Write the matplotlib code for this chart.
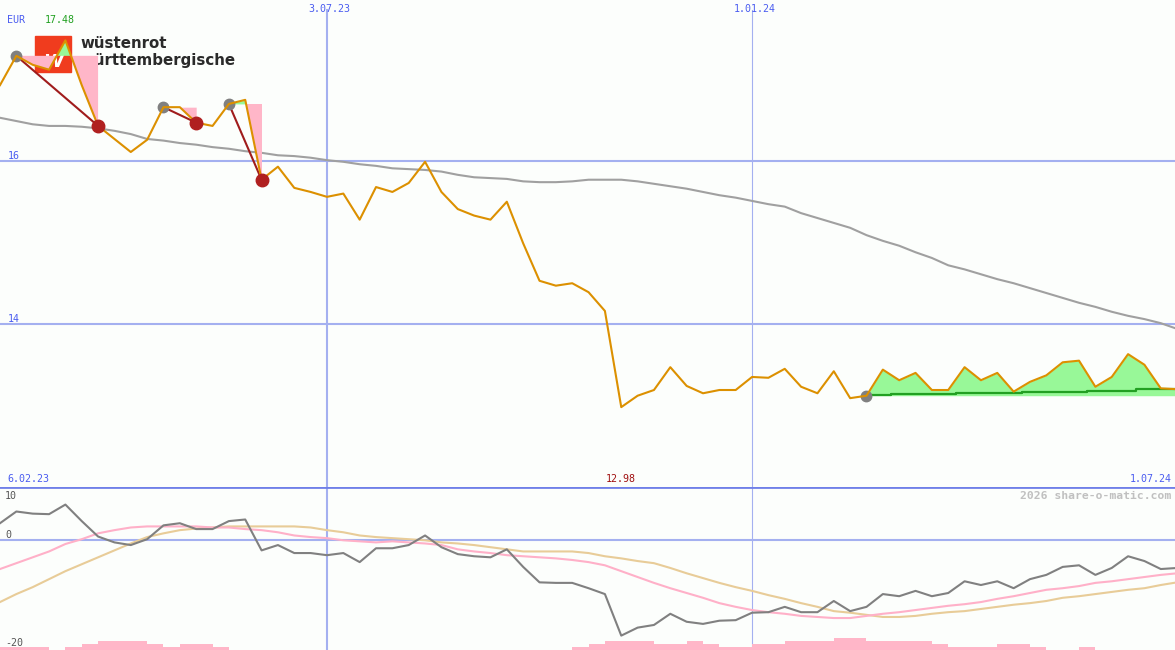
import matplotlib
matplotlib.use("Agg")
import matplotlib.pyplot as plt
import numpy as np
import pandas as pd

# weekly closes, starting 13.02.23
start = pd.Timestamp("2023-02-13")
price = [16.93, 17.29, 17.18, 17.12, 17.48, 16.93, 16.43, 16.27, 16.11, 16.26,
         16.66, 16.66, 16.47, 16.43, 16.70, 16.75, 15.77, 15.93, 15.67, 15.62,
         15.56, 15.60, 15.28, 15.68, 15.62, 15.73, 15.99, 15.62, 15.41, 15.33,
         15.28, 15.50, 14.99, 14.53, 14.47, 14.50, 14.39, 14.16, 12.98, 13.12,
         13.19, 13.47, 13.24, 13.15, 13.19, 13.19, 13.35, 13.34, 13.45, 13.23,
         13.15, 13.42, 13.09, 13.12, 13.44, 13.31, 13.40, 13.19, 13.19, 13.47,
         13.31, 13.40, 13.17, 13.29, 13.37, 13.53, 13.55, 13.23, 13.35, 13.63,
         13.50, 13.21, 13.20]
avg_long = [16.53, 16.49, 16.45, 16.43, 16.43, 16.42, 16.40, 16.37, 16.33, 16.27,
            16.25, 16.22, 16.20, 16.17, 16.15, 16.12, 16.10, 16.07, 16.06, 16.04,
            16.01, 15.99, 15.96, 15.94, 15.91, 15.90, 15.89, 15.87, 15.83, 15.80,
            15.79, 15.78, 15.75, 15.74, 15.74, 15.75, 15.77, 15.77, 15.77, 15.75,
            15.72, 15.69, 15.66, 15.62, 15.58, 15.55, 15.51, 15.47, 15.44, 15.36,
            15.30, 15.24, 15.18, 15.09, 15.02, 14.96, 14.88, 14.81, 14.72, 14.67,
            14.61, 14.55, 14.50, 14.44, 14.38, 14.32, 14.26, 14.21, 14.15, 14.10,
            14.06, 14.01, 13.94]

# closed trades (week index of entry / exit) and the open one
entries = [1, 10, 14]
exits = [6, 12, 16]
open_entry = 53
stop_level = [13.13, 13.13, 13.14, 13.14, 13.14, 13.14, 13.15, 13.15, 13.15, 13.15,
              13.17, 13.17, 13.17, 13.17, 13.18, 13.18, 13.18, 13.20, 13.20, 13.20]

# lower panel
momentum = [3.2, 5.4, 5.0, 4.9, 6.7, 3.6, 0.7, -0.4, -0.9, 0.2,
            2.8, 3.2, 2.1, 2.1, 3.6, 3.9, -1.9, -0.9, -2.4, -2.4,
            -2.8, -2.4, -4.1, -1.5, -1.5, -0.9, 0.9, -1.3, -2.6, -3.0,
            -3.2, -1.7, -5.0, -7.9, -8.0, -8.0, -9.0, -10.1, -17.9, -16.4,
            -15.9, -13.8, -15.3, -15.7, -15.1, -15.0, -13.6, -13.5, -12.5, -13.5,
            -13.5, -11.4, -13.3, -12.5, -10.1, -10.5, -9.5, -10.5, -9.9, -7.7,
            -8.4, -7.7, -9.0, -7.3, -6.5, -5.0, -4.7, -6.5, -5.2, -3.0,
            -3.9, -5.4, -5.2]
mom_fast = [-5.4, -4.3, -3.2, -2.1, -0.7, 0.2, 1.3, 1.9, 2.4, 2.6,
            2.6, 2.6, 2.6, 2.4, 2.4, 2.1, 1.9, 1.5, 0.9, 0.6,
            0.4, 0.0, -0.2, -0.4, -0.2, -0.4, -0.6, -0.9, -1.7, -2.1,
            -2.4, -2.8, -3.0, -3.2, -3.4, -3.7, -4.1, -4.7, -5.8, -6.9,
            -8.0, -9.0, -9.9, -10.8, -11.8, -12.5, -13.1, -13.5, -13.8, -14.2,
            -14.4, -14.6, -14.6, -14.2, -13.8, -13.5, -13.1, -12.7, -12.3, -12.0,
            -11.6, -11.0, -10.5, -9.9, -9.3, -9.0, -8.6, -8.0, -7.7, -7.3,
            -6.9, -6.5, -6.2]
mom_slow = [-11.6, -10.1, -8.8, -7.3, -5.8, -4.5, -3.2, -1.9, -0.6, 0.6,
            1.3, 1.9, 2.2, 2.4, 2.6, 2.6, 2.6, 2.6, 2.6, 2.4,
            1.9, 1.5, 0.9, 0.6, 0.4, 0.2, 0.0, -0.4, -0.6, -0.9,
            -1.3, -1.7, -2.1, -2.1, -2.1, -2.1, -2.4, -3.0, -3.4, -3.9,
            -4.3, -5.2, -6.2, -7.1, -8.0, -8.8, -9.5, -10.3, -11.0, -11.8,
            -12.5, -13.3, -13.6, -14.0, -14.4, -14.4, -14.2, -13.8, -13.5, -13.3,
            -12.9, -12.5, -12.1, -11.8, -11.4, -10.8, -10.5, -10.1, -9.7, -9.3,
            -9.0, -8.4, -7.9]
volume = [1, 1, 1, 0, 1, 2, 3, 3, 3, 2, 1, 2, 2, 1, 0, 0, 0, 0, 0, 0,
          0, 0, 0, 0, 0, 0, 0, 0, 0, 0, 0, 0, 0, 0, 0, 1, 2, 3, 3, 3,
          2, 2, 3, 2, 1, 1, 2, 2, 3, 3, 3, 4, 4, 3, 3, 3, 3, 2, 1, 1,
          1, 2, 2, 1, 0, 0, 1, 0, 0, 0, 0, 0, 0]

grid_dates = ["2023-07-03", "2024-01-01"]
grid_labels = ["3.07.23", "1.01.24"]

BG = "#fcfefc"
BLUE = "#a4b0f0"
TXT_BLUE = "#4a5cf0"
MONO = "DejaVu Sans Mono"

x = np.arange(len(price))
p = np.array(price)
xmax = 71.87

def wk(d):
    return (pd.Timestamp(d) - start).days / 7.0

fig = plt.figure(figsize=(11.75, 6.5), dpi=100)
fig.patch.set_facecolor(BG)
ax = fig.add_axes([0, 163 / 650, 1, 487 / 650])
ax2 = fig.add_axes([0, 0, 1, 163 / 650])
for a in (ax, ax2):
    a.set_facecolor(BG)
    a.set_xlim(0, xmax)
    a.axis("off")
ax.set_ylim(12.0, 17.975)
ax2.set_ylim(-20.6, 10.0)

# grid
for lv in (16, 14):
    ax.axhline(lv, color=BLUE, lw=1.5, zorder=1)
    ax.text(0.45, lv + 0.06, str(lv), color=TXT_BLUE, fontsize=7.2,
            family=MONO, va="center", ha="left")
for d, lab, w in zip(grid_dates, grid_labels, [1.5, 0.8]):
    ax.axvline(wk(d), color=BLUE, lw=w, ymax=0.98, zorder=1)
    ax2.axvline(wk(d), color=BLUE, lw=w, zorder=1)
    ax.text(wk(d) + 0.15, 0.982, lab, transform=ax.get_xaxis_transform(),
            color=TXT_BLUE, fontsize=7.2, family=MONO, ha="center", va="center")
ax2.axhline(0, color=BLUE, lw=1.5, zorder=1)
ax2.axhline(10.0, color="#7080e8", lw=2, zorder=5)

# logo
ax.add_patch(plt.Rectangle((35 / 16.35, 16.0 + (161 - 72) / 81.5), 36 / 16.35, 36 / 81.5,
                           color="#f03c1e", zorder=1.2))
ax.text(53 / 16.35, 16.0 + (161 - 62) / 81.5, "W", color="white", fontsize=13,
        fontweight="bold", style="italic", ha="center", va="center", zorder=1.3)
ax.text(80 / 16.35, 16.0 + (161 - 44) / 81.5, "wüstenrot", color="#2a2a2a",
        fontsize=10.8, fontweight="bold", va="center", zorder=1.3)
ax.text(80 / 16.35, 16.0 + (161 - 61) / 81.5, "württembergische", color="#2a2a2a",
        fontsize=10.8, fontweight="bold", va="center", zorder=1.3)

ax.plot(x, avg_long, color="#a0a0a0", lw=1.5, zorder=2)

# trades
for e, s in zip(entries, exits):
    xs = x[e:s + 1]
    ys = p[e:s + 1]
    ax.fill_between(xs, p[e], ys, where=ys <= p[e], interpolate=True,
                    color="#ffb6c8", lw=0, zorder=3)
    ax.fill_between(xs, p[e], ys, where=ys >= p[e], interpolate=True,
                    color="#98f898", lw=0, zorder=3)
    ax.plot([e, s], [p[e], p[s]], color="#a01c1c", lw=1.5, zorder=4)
    ax.plot(e, p[e], "o", color="#808080", ms=7.5, zorder=4)
    ax.plot(s, p[s], "o", color="#b02020", ms=9, zorder=6)

xo = x[open_entry:]
yo = p[open_entry:]
ax.fill_between(xo, p[open_entry], yo, where=yo >= p[open_entry], interpolate=True,
                color="#98f898", lw=0, zorder=3)
ax.plot(xo, stop_level, color="#22a022", lw=1.6, drawstyle="steps-mid", zorder=4)
ax.plot(open_entry, p[open_entry], "o", color="#808080", ms=7.5, zorder=4)

ax.plot(x, p, color="#dc9000", lw=1.5, zorder=5)

# labels main panel
ax.text(0.45, 0.958, "EUR", transform=ax.get_xaxis_transform(), color=TXT_BLUE,
        fontsize=7.2, family=MONO, va="center")
ax.text(2.75, 0.958, "%.2f" % max(price), transform=ax.get_xaxis_transform(),
        color="#20a020", fontsize=7.2, family=MONO, va="center")
ax.text(0.45, 0.017, "6.02.23", transform=ax.get_xaxis_transform(), color=TXT_BLUE,
        fontsize=7.2, family=MONO, va="center")
ax.text(int(np.argmin(p)), 0.017, "%.2f" % min(price), transform=ax.get_xaxis_transform(),
        color="#a01010", fontsize=7.2, family=MONO, va="center", ha="center")
ax.text(xmax - 0.2, 0.017, "1.07.24", transform=ax.get_xaxis_transform(),
        color=TXT_BLUE, fontsize=7.2, family=MONO, va="center", ha="right")

# lower panel
vol = np.array(volume) * 0.56
ax2.bar(x + 0.5, vol, bottom=-20.6, width=1.0, color="#ffb6c8", lw=0, zorder=2)
ax2.plot(x, mom_slow, color="#e8cc98", lw=1.5, zorder=3)
ax2.plot(x, mom_fast, color="#ffb0c8", lw=1.5, zorder=3)
ax2.plot(x, momentum, color="#808080", lw=1.5, zorder=4)
ax2.text(0.3, 8.3, "10", color="#555555", fontsize=7.2, family=MONO, va="center")
ax2.text(0.3, 0.9, "0", color="#555555", fontsize=7.2, family=MONO, va="center")
ax2.text(0.3, -19.3, "-20", color="#555555", fontsize=7.2, family=MONO, va="center")
ax2.text(xmax - 0.2, 8.3, "2026 share-o-matic.com", color="#c0c0c0", fontsize=8.2,
         family=MONO, fontweight="bold", va="center", ha="right")

fig.savefig("out.png", dpi=100, facecolor=BG)
